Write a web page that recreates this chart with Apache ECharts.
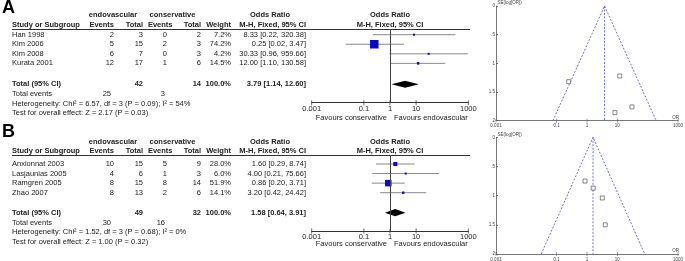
<!DOCTYPE html>
<html>
<head>
<meta charset="utf-8">
<script src="https://cdn.jsdelivr.net/npm/echarts@6/dist/echarts.min.js"></script>
<style>
html, body { margin: 0; padding: 0; background: #fff; }
#chart { width: 685px; height: 261px; }
</style>
</head>
<body>
<div id="chart"></div>
<script>
// panel A: endovascular vs conservative
const studiesA = ['Han 1998', 'Kim 2006', 'Kim 2008', 'Kurata 2001'];
const endoEventsA = [2, 5, 6, 12];
const endoTotalA = [3, 15, 7, 17];
const consEventsA = [0, 2, 0, 1];
const consTotalA = [2, 3, 3, 6];
const weightA = [7.2, 74.2, 4.2, 14.5];
const orA = [8.33, 0.25, 30.33, 12.00];
const loA = [0.22, 0.02, 0.96, 1.10];
const hiA = [320.38, 3.47, 959.66, 130.58];
const totalsA = [42, 14];
const totalEventsA = [25, 3];
const pooledA = [3.79, 1.14, 12.60];
const hetA = 'Heterogeneity: Chi\u00b2 = 6.57, df = 3 (P = 0.09); I\u00b2 = 54%';
const testA = 'Test for overall effect: Z = 2.17 (P = 0.03)';
const seA = [1.86, 1.32, 1.76, 1.22];
const funnelA = [0.075, 191];

// panel B
const studiesB = ['Anxionnat 2003', 'Lasjaunias 2005', 'Ramgren 2005', 'Zhao 2007'];
const endoEventsB = [10, 4, 8, 8];
const endoTotalB = [15, 6, 15, 13];
const consEventsB = [5, 1, 8, 2];
const consTotalB = [9, 3, 14, 6];
const weightB = [28.0, 6.0, 51.9, 14.1];
const orB = [1.60, 4.00, 0.86, 3.20];
const loB = [0.29, 0.21, 0.20, 0.42];
const hiB = [8.74, 75.66, 3.71, 24.42];
const totalsB = [49, 32];
const totalEventsB = [30, 16];
const pooledB = [1.58, 0.64, 3.91];
const hetB = 'Heterogeneity: Chi\u00b2 = 1.52, df = 3 (P = 0.68); I\u00b2 = 0%';
const testB = 'Test for overall effect: Z = 1.00 (P = 0.32)';
const seB = [0.87, 1.50, 0.75, 1.04];
const funnelB = [0.031, 80];

// axis ticks
const orTicks = [0.001, 0.1, 1, 10, 1000];
const seLabels = ['0', '.5', '1', '1.5', '2'];

const FONT = '"Liberation Sans", Arial, sans-serif';
const INK = '#222';

const layoutA = { letterY: 8, head1Y: 15, head2Y: 25, lineY: 29.5, firstRow: 34.7, step: 9.55, axisY: 102.7, favY: 118,
  totalRow: 6.19, eventsRow: 7.24, hetRow: 8.22, testRow: 9.2, funnelTop: 6, funnelBottom: 120.7 };
const layoutB = { letterY: 132, head1Y: 141.5, head2Y: 151, lineY: 155.5, firstRow: 164, step: 9.57, axisY: 231, favY: 244,
  totalRow: 6.09, eventsRow: 7.13, hetRow: 8.13, testRow: 9.11, funnelTop: 137.3, funnelBottom: 254 };

const panels = [
  { letter: 'A', L: layoutA, studies: studiesA, ee: endoEventsA, et: endoTotalA, ce: consEventsA, ct: consTotalA,
    w: weightA, or: orA, lo: loA, hi: hiA, totals: totalsA, tev: totalEventsA, pooled: pooledA, het: hetA, test: testA,
    se: seA, funnel: funnelA },
  { letter: 'B', L: layoutB, studies: studiesB, ee: endoEventsB, et: endoTotalB, ce: consEventsB, ct: consTotalB,
    w: weightB, or: orB, lo: loB, hi: hiB, totals: totalsB, tev: totalEventsB, pooled: pooledB, het: hetB, test: testB,
    se: seB, funnel: funnelB }
];

// table columns (right edges unless noted)
const COL = { name: 12, ee: 114, et: 143, ce: 167, ct: 201, w: 231, ci: 306, endoHead: 113, consHead: 172.5, orHead: 270, forest: 390 };

function txt(x, y, s, align, bold, size, color) {
  return {
    type: 'text', x: x, y: y, silent: true,
    style: {
      text: s, fill: color || INK, fontFamily: FONT, fontSize: size || 7.5, fontWeight: bold ? 'bold' : 'normal',
      align: align || 'left', textAlign: align || 'left', verticalAlign: 'middle', textVerticalAlign: 'middle'
    }
  };
}

function fmtCI(o, l, h) {
  return o.toFixed(2) + ' [' + l.toFixed(2) + ', ' + h.toFixed(2) + ']';
}

function orLabel(v) {
  for (let i = 0; i < orTicks.length; i++) {
    if (Math.abs(Math.log10(v) - Math.log10(orTicks[i])) < 1e-6) return String(orTicks[i]);
  }
  return '';
}

function boxSize(w) {
  return Math.max(2, 8.5 * Math.pow(w / 74.2, 0.75));
}

const grids = [], xAxes = [], yAxes = [], series = [], graphics = [];

panels.forEach(function (p, k) {
  const L = p.L;
  const fg = 2 * k, ug = 2 * k + 1;
  const rowY = function (r) { return L.firstRow + (r - 1) * L.step; };
  const yMin = 1 - (L.firstRow - L.lineY) / L.step;
  const yMax = yMin + (L.axisY - L.lineY) / L.step;

  // forest grid
  grids.push({ left: 311.7, width: 156.6, top: L.lineY, height: L.axisY - L.lineY, outerBoundsMode: 'none' });
  xAxes.push({
    type: 'log', logBase: 10, min: 0.001, max: 1000, gridIndex: fg,
    axisLine: { onZero: false, lineStyle: { color: '#333', width: 1 } },
    axisTick: { show: false }, splitLine: { show: false },
    axisLabel: { formatter: orLabel, fontSize: 7.5, fontFamily: FONT, color: INK, margin: 2, showMinLabel: true, showMaxLabel: true, hideOverlap: false }
  });
  yAxes.push({ type: 'value', inverse: true, min: yMin, max: yMax, gridIndex: fg, show: false, splitLine: { show: false } });

  // funnel grid
  grids.push({ left: 496, width: 182, top: L.funnelTop, height: L.funnelBottom - L.funnelTop, outerBoundsMode: 'none' });
  xAxes.push({
    type: 'log', logBase: 10, min: 0.001, max: 1000, gridIndex: ug,
    axisLine: { onZero: false, lineStyle: { color: '#555', width: 0.8 } },
    axisTick: { show: false }, splitLine: { show: false },
    axisLabel: { formatter: orLabel, fontSize: 4.5, fontFamily: FONT, color: '#444', margin: 3, showMinLabel: true, showMaxLabel: true, hideOverlap: false }
  });
  yAxes.push({
    type: 'value', inverse: true, min: 0, max: 2, interval: 0.5, gridIndex: ug,
    axisLine: { show: true, onZero: false, lineStyle: { color: '#555', width: 0.8 } },
    axisTick: { show: true, inside: true, length: 2, lineStyle: { color: '#555', width: 0.8 } },
    splitLine: { show: false },
    axisLabel: { formatter: function (v) { return seLabels[Math.round(v / 0.5)]; }, fontSize: 4.5, fontFamily: FONT, color: '#444', margin: 1 }
  });

  // forest: axis ticks + line of no effect
  series.push({
    type: 'scatter', xAxisIndex: fg, yAxisIndex: fg, silent: true,
    symbol: 'rect', symbolSize: [0.9, 5], itemStyle: { color: '#333' },
    data: orTicks.map(function (t) { return [t, yMax]; }),
    markLine: {
      silent: true, symbol: 'none', label: { show: false },
      lineStyle: { color: '#444', width: 1, type: 'solid' },
      data: [{ xAxis: 1 }]
    }
  });

  // forest: study CIs and boxes
  series.push({
    type: 'custom', xAxisIndex: fg, yAxisIndex: fg, silent: true,
    data: p.studies.map(function (s, i) { return [p.lo[i], p.hi[i], p.or[i], i + 1, p.w[i]]; }),
    renderItem: function (params, api) {
      const r = api.value(3);
      const a = api.coord([api.value(0), r]);
      const b = api.coord([api.value(1), r]);
      const c = api.coord([api.value(2), r]);
      const s = boxSize(api.value(4));
      return {
        type: 'group', children: [
          { type: 'line', shape: { x1: a[0], y1: a[1], x2: b[0], y2: b[1] }, style: { stroke: '#8a8a8a', lineWidth: 1 } },
          { type: 'rect', shape: { x: c[0] - s / 2, y: c[1] - s / 2, width: s, height: s }, style: { fill: '#0a0ac4' } }
        ]
      };
    }
  });

  // forest: pooled diamond
  series.push({
    type: 'custom', xAxisIndex: fg, yAxisIndex: fg, silent: true,
    data: [[p.pooled[1], p.pooled[2], p.pooled[0], L.totalRow]],
    renderItem: function (params, api) {
      const r = api.value(3);
      const a = api.coord([api.value(0), r]);
      const b = api.coord([api.value(1), r]);
      const c = api.coord([api.value(2), r]);
      return {
        type: 'polygon',
        shape: { points: [[a[0], a[1]], [c[0], c[1] - 3.6], [b[0], b[1]], [c[0], c[1] + 3.6]] },
        style: { fill: '#000' }
      };
    }
  });

  // funnel: study points
  series.push({
    type: 'scatter', xAxisIndex: ug, yAxisIndex: ug, silent: true,
    symbol: 'rect', symbolSize: 4,
    itemStyle: { color: '#fff', borderColor: '#444', borderWidth: 0.8 },
    data: p.or.map(function (o, i) { return [o, p.se[i]]; }), z: 5
  });
  // funnel: pseudo 95% limits
  series.push({
    type: 'line', xAxisIndex: ug, yAxisIndex: ug, silent: true, symbol: 'none',
    lineStyle: { color: '#6262d0', width: 0.9, type: [2, 1.5] },
    data: [[p.funnel[0], 2], [p.pooled[0], 0], [p.funnel[1], 2]]
  });
  series.push({
    type: 'line', xAxisIndex: ug, yAxisIndex: ug, silent: true, symbol: 'none',
    lineStyle: { color: '#6262d0', width: 0.9, type: [2, 1.5] },
    data: [[p.pooled[0], 0], [p.pooled[0], 2]]
  });
  // funnel: x ticks
  series.push({
    type: 'scatter', xAxisIndex: ug, yAxisIndex: ug, silent: true,
    symbol: 'rect', symbolSize: [0.7, 4], itemStyle: { color: '#555' },
    data: orTicks.map(function (t) { return [t, 2]; })
  });

  // table text
  graphics.push(txt(2, L.letterY, p.letter, 'left', true, 18, '#000'));
  graphics.push(txt(COL.endoHead, L.head1Y, 'endovascular', 'center', true));
  graphics.push(txt(COL.consHead, L.head1Y, 'conservative', 'center', true));
  graphics.push(txt(COL.orHead, L.head1Y, 'Odds Ratio', 'center', true));
  graphics.push(txt(COL.forest, L.head1Y, 'Odds Ratio', 'center', true));
  graphics.push(txt(COL.name, L.head2Y, 'Study or Subgroup', 'left', true));
  graphics.push(txt(COL.ee, L.head2Y, 'Events', 'right', true));
  graphics.push(txt(COL.et, L.head2Y, 'Total', 'right', true));
  graphics.push(txt(COL.consHead - 0.5 + 22.5 - 22, L.head2Y, 'Events', 'right', true));
  graphics.push(txt(COL.ct, L.head2Y, 'Total', 'right', true));
  graphics.push(txt(COL.w, L.head2Y, 'Weight', 'right', true));
  graphics.push(txt(COL.ci, L.head2Y, 'M-H, Fixed, 95% CI', 'right', true));
  graphics.push(txt(COL.forest, L.head2Y, 'M-H, Fixed, 95% CI', 'center', true));
  graphics.push({ type: 'line', silent: true, shape: { x1: 12, y1: L.lineY, x2: 470, y2: L.lineY }, style: { stroke: '#333', lineWidth: 1 } });

  p.studies.forEach(function (s, i) {
    const y = rowY(i + 1);
    graphics.push(txt(COL.name, y, s));
    graphics.push(txt(COL.ee, y, String(p.ee[i]), 'right'));
    graphics.push(txt(COL.et, y, String(p.et[i]), 'right'));
    graphics.push(txt(COL.ce, y, String(p.ce[i]), 'right'));
    graphics.push(txt(COL.ct, y, String(p.ct[i]), 'right'));
    graphics.push(txt(COL.w, y, p.w[i].toFixed(1) + '%', 'right'));
    graphics.push(txt(COL.ci, y, fmtCI(p.or[i], p.lo[i], p.hi[i]), 'right'));
  });

  const ty = rowY(L.totalRow);
  graphics.push(txt(COL.name, ty, 'Total (95% CI)', 'left', true));
  graphics.push(txt(COL.et, ty, String(p.totals[0]), 'right', true));
  graphics.push(txt(COL.ct, ty, String(p.totals[1]), 'right', true));
  graphics.push(txt(COL.w, ty, '100.0%', 'right', true));
  graphics.push(txt(COL.ci, ty, fmtCI(p.pooled[0], p.pooled[1], p.pooled[2]), 'right', true));

  const ey = rowY(L.eventsRow);
  graphics.push(txt(COL.name, ey, 'Total events'));
  graphics.push(txt(111, ey, String(p.tev[0]), 'right'));
  graphics.push(txt(165, ey, String(p.tev[1]), 'right'));
  graphics.push(txt(COL.name, rowY(L.hetRow), p.het));
  graphics.push(txt(COL.name, rowY(L.testRow), p.test));

  graphics.push(txt(387, L.favY, 'Favours conservative', 'right'));
  graphics.push(txt(394, L.favY, 'Favours endovascular', 'left'));

  // funnel names
  graphics.push(txt(497.5, L.funnelTop - 3, 'SE(log[OR])', 'left', false, 4.5, '#444'));
  graphics.push(txt(679, L.funnelBottom - 3, 'OR', 'right', false, 4.5, '#444'));
});

const chart = echarts.init(document.getElementById('chart'));
chart.setOption({
  animation: false,
  backgroundColor: '#fff',
  grid: grids,
  xAxis: xAxes,
  yAxis: yAxes,
  series: series,
  graphic: { elements: graphics }
});
</script>
</body>
</html>
